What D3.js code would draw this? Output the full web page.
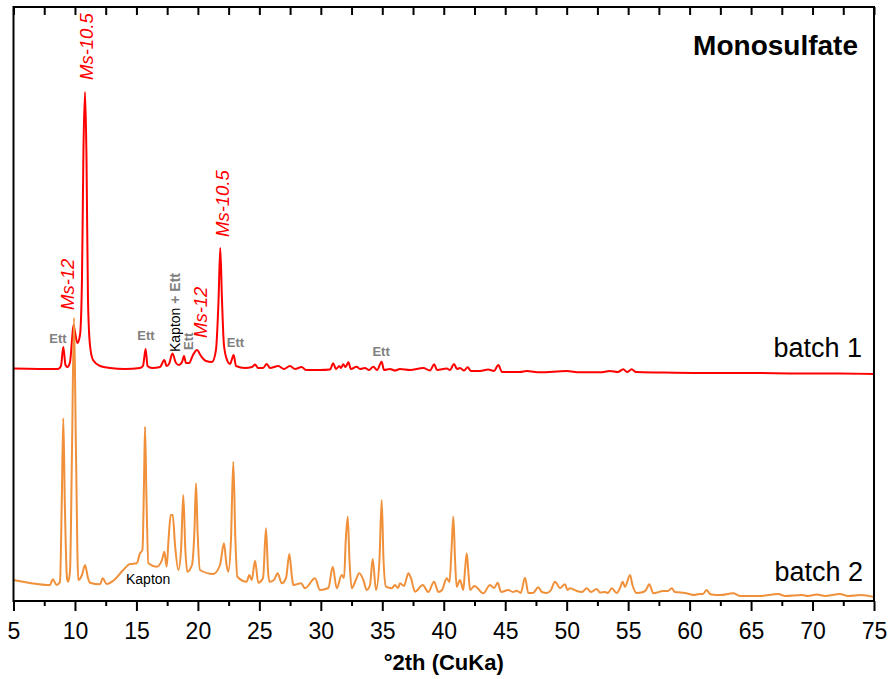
<!DOCTYPE html>
<html>
<head>
<meta charset="utf-8">
<script src="https://cdn.jsdelivr.net/npm/d3@7"></script>
<style>
  html, body { margin: 0; padding: 0; background: #fff; }
  svg { display: block; font-family: "Liberation Sans", Arial, sans-serif; }
</style>
</head>
<body>
<svg id="chart" width="891" height="679"></svg>
<script>
// ---- DATA (2θ in degrees, intensity in arbitrary units, batch 1 includes its vertical offset) ----
const batch1 = [
  [5.0,232.5],[8.62,232],[8.86,235],[9.05,254],[9.23,236],[9.39,234],[9.6,239],[9.76,261],[9.88,276],
  [10.0,269],[10.2,258],[10.41,266],[10.57,321],[10.69,451],[10.82,509],[10.94,441],[11.06,301],[11.22,256],
  [11.47,241],[12.04,235],[12.85,233],[14.07,232],[15.29,233],[15.53,235],[15.75,252],[15.9,235],[16.27,233],
  [16.92,234],[17.27,241],[17.45,235],[17.65,237],[17.93,247.5],[18.22,238],[18.46,236],[18.71,239],[18.87,245],
  [19.03,238],[19.28,238],[19.6,246],[19.93,251],[20.25,245],[20.66,240],[21.15,239],[21.47,251],[21.68,301],
  [21.82,353],[21.96,301],[22.12,256],[22.37,241],[22.61,237],[22.91,246],[23.1,235],[23.83,233],[24.4,234],
  [24.65,236.5],[24.9,233],[25.3,233],[25.6,237],[25.87,233],[26.54,235],[27.0,232],[27.49,235],[27.9,232],
  [28.44,234],[28.79,231],[29.93,231],[30.75,231.5],[31.01,237.7],[31.23,232],[31.5,235],[31.64,233],[31.83,236.7],
  [32.01,234],[32.24,238.7],[32.45,232],[32.92,234.3],[33.19,232],[33.59,233],[33.92,231],[34.27,234.3],[34.57,231],
  [34.95,239.3],[35.14,231],[35.63,232],[36.03,230.5],[36.44,232],[37.25,231],[38.34,233],[38.88,230.5],[39.23,236.7],
  [39.45,231],[40.24,232.5],[40.51,231],[40.83,237],[41.08,232],[41.32,233],[41.65,230.5],[41.95,233.7],[42.22,230],
  [42.95,230],[43.62,231.5],[44.09,230],[44.44,236],[44.74,229],[46.2,229],[46.75,230],[47.83,228.7],[50.0,230],
  [51.08,228.7],[52.71,228.7],[53.52,230],[54.17,229],[54.6,231.7],[54.91,229],[55.29,231.7],[55.64,229],
  [57.59,228.5],[60.84,228],[64.91,228],[68.97,227.5],[72.23,227.5],[75.0,227]
];
const batch2 = [
  [5.0,21],[6.34,18],[7.97,16],[8.19,21.7],[8.51,16],[8.78,19],[8.93,101],[9.05,182.7],[9.17,101],[9.35,23],
  [9.46,19.3],[9.6,31],[9.76,151],[9.92,283],[10.08,151],[10.27,21],[10.57,26],[10.82,36],[11.06,23],[11.22,18.3],
  [12.04,16.7],[12.26,22.7],[12.58,17],[13.12,20.3],[13.93,31],[14.48,37],[15.02,37.7],[15.29,47.7],[15.49,51],
  [15.62,121],[15.7,174.3],[15.82,101],[15.97,37.7],[16.65,34.3],[17.08,41],[17.27,49.3],[17.46,34.3],[17.61,61],
  [17.79,86],[17.95,86],[18.14,56],[18.41,31],[18.63,51],[18.81,106],[18.98,51],[19.14,29.3],[19.52,36],[19.72,71],
  [19.85,117.7],[19.97,71],[20.17,31],[21.25,27],[21.8,36],[22.12,57.7],[22.33,36],[22.47,29.3],[22.69,61],
  [22.88,139.3],[23.05,61],[23.21,24.3],[23.97,19.3],[24.18,26],[24.38,21],[24.65,40.3],[24.91,18.3],[25.3,23],
  [25.54,72.7],[25.7,31],[25.81,19.3],[26.19,21],[26.49,27.7],[26.82,17.7],[27.17,23],[27.44,47],[27.66,23],
  [27.76,16],[28.39,17.7],[28.71,12.7],[29.53,22.7],[29.93,11],[30.61,13],[30.97,34.3],[31.29,12.7],[31.7,26],
  [31.89,23],[32.03,61],[32.19,84.3],[32.33,41],[32.51,12.7],[32.78,19],[33.13,27.7],[33.46,21],[33.73,11],
  [34.0,16],[34.22,42],[34.49,11],[34.77,41],[34.95,101],[35.1,41],[35.3,14.3],[35.77,12.7],[36.03,16],[36.28,13],
  [36.44,17.7],[36.77,15],[37.12,27.7],[37.33,23],[37.66,9.3],[38.29,16],[38.74,9],[39.21,19.3],[39.56,9],
  [39.86,11],[40.24,22.7],[40.47,19],[40.63,51],[40.78,84.3],[40.92,41],[41.05,14.3],[41.32,21],[41.59,11],
  [41.73,31],[41.87,47.7],[42.02,26],[42.14,11],[42.49,15],[43.22,7.7],[43.76,16],[44.09,13],[44.39,18.3],
  [44.66,9],[45.25,11],[45.63,9],[45.93,10.3],[46.26,8],[46.61,23.3],[46.88,8],[47.26,8],[47.69,13.7],[47.99,9],
  [48.37,8],[48.72,11],[49.05,19.3],[49.46,13],[49.86,16.7],[50.07,11],[50.27,12.7],[50.81,10],[51.25,9],
  [51.63,12.7],[51.98,9],[52.44,12],[52.71,8.5],[53.12,9],[53.36,8],[53.66,12.7],[54.07,8],[54.34,13],[54.56,19.3],
  [54.74,14],[55.15,26],[55.35,16],[55.69,8],[56.23,9],[56.45,11],[56.72,16.7],[57.05,7.7],[57.86,10],[58.24,10],
  [58.54,12.7],[58.81,9],[59.22,8.5],[59.89,7.3],[60.3,6],[60.84,7],[61.08,7],[61.39,11],[61.66,7],[61.93,6.3],
  [62.47,6],[63.55,7.7],[64.1,5],[65.72,5],[67.21,7],[67.76,5],[69.12,6],[69.63,5],[70.34,6.5],[71.01,5],
  [72.23,7],[72.88,5],[73.95,6],[75.0,4]
];
const xTickValues = [5,10,15,20,25,30,35,40,45,50,55,60,65,70,75];
const xMinorValues = [7.5,12.5,17.5,22.5,27.5,32.5,37.5,42.5,47.5,52.5,57.5,62.5,67.5,72.5];
const xDomain = [5, 75];
const yDomain = [0, 594];
const xAxisTitle = "°2th (CuKa)";
const chartTitle = "Monosulfate";
const seriesNames = ["batch 1", "batch 2"];
// rotated phase labels: [text, 2θ, intensity]
const phaseLabels = [
  ["Ms-10.5", 11.47, 521],
  ["Ms-12", 9.92, 291],
  ["Ms-10.5", 22.57, 364],
  ["Ms-12", 20.78, 263]
];
// horizontal Ett labels: [2θ, intensity]
const ettLabels = [[8.62, 258], [15.78, 261], [23.06, 254], [34.9, 245]];

(function draw() {
  const margin = { left: 13.5, right: 874, top: 7, bottom: 601 };
  const svg = d3.select("#chart");
  const x = d3.scaleLinear().domain(xDomain).range([margin.left, margin.right]);
  const y = d3.scaleLinear().domain(yDomain).range([margin.bottom, margin.top]);

  const red = "#ff0000";
  const orange = "#f0903a";
  const gray = "#808080";

  const line = d3.line().x(d => x(d[0])).y(d => y(d[1])).curve(d3.curveMonotoneX);
  svg.append("path").datum(batch1).attr("d", line)
    .attr("fill", "none").attr("stroke", red).attr("stroke-width", 2).attr("stroke-linejoin", "round");
  svg.append("path").datum(batch2).attr("d", line)
    .attr("fill", "none").attr("stroke", orange).attr("stroke-width", 2).attr("stroke-linejoin", "round");

  svg.append("rect")
    .attr("x", margin.left).attr("y", margin.top)
    .attr("width", margin.right - margin.left).attr("height", margin.bottom - margin.top)
    .attr("fill", "none").attr("stroke", "#000").attr("stroke-width", 2);

  const bottomAxis = svg.append("g").attr("transform", `translate(0,${margin.bottom})`)
    .call(d3.axisBottom(x).tickValues(xTickValues).tickSize(10).tickPadding(12).tickFormat(d3.format("d")));
  bottomAxis.select(".domain").remove();
  bottomAxis.selectAll(".tick line").attr("stroke", "#000").attr("stroke-width", 2);
  bottomAxis.selectAll(".tick text").attr("font-size", 23).attr("fill", "#000")
    .attr("font-family", "'Liberation Sans', Arial, sans-serif");

  const bottomMinor = svg.append("g").attr("transform", `translate(0,${margin.bottom})`)
    .call(d3.axisBottom(x).tickValues(xMinorValues).tickSize(5).tickFormat(""));
  bottomMinor.select(".domain").remove();
  bottomMinor.selectAll(".tick line").attr("stroke", "#000").attr("stroke-width", 2);

  const topAxis = svg.append("g").attr("transform", `translate(0,${margin.top})`)
    .call(d3.axisTop(x).tickValues(xTickValues.concat(xMinorValues)).tickSize(-8).tickFormat(""));
  topAxis.select(".domain").remove();
  topAxis.selectAll(".tick line").attr("stroke", "#000").attr("stroke-width", 2);

  svg.append("text").attr("x", (margin.left + margin.right) / 2).attr("y", 670)
    .attr("text-anchor", "middle").attr("font-size", 22).attr("font-weight", "bold")
    .text(xAxisTitle);

  svg.append("text").attr("x", 858).attr("y", 55).attr("text-anchor", "end")
    .attr("font-size", 28).attr("font-weight", "bold").text(chartTitle);

  svg.append("text").attr("x", 862).attr("y", 357).attr("text-anchor", "end")
    .attr("font-size", 27).text(seriesNames[0]);
  svg.append("text").attr("x", 863).attr("y", 581).attr("text-anchor", "end")
    .attr("font-size", 27).text(seriesNames[1]);

  phaseLabels.forEach(([t, th, inten]) => {
    svg.append("text")
      .attr("transform", `translate(${x(th)},${y(inten)}) rotate(-90)`)
      .attr("font-size", 18.5).attr("font-style", "italic").attr("fill", red)
      .text(t);
  });

  const kt = svg.append("text")
    .attr("transform", `translate(${x(18.54)},${y(249)}) rotate(-90)`)
    .attr("font-size", 14);
  kt.append("tspan").attr("fill", "#000").text("Kapton ");
  kt.append("tspan").attr("fill", gray).attr("font-weight", "bold").text("+ Ett");

  svg.append("text")
    .attr("transform", `translate(${x(19.6)},${y(251)}) rotate(-90)`)
    .attr("font-size", 13).attr("font-weight", "bold").attr("fill", gray).text("Ett");

  ettLabels.forEach(([th, inten]) => {
    svg.append("text").attr("x", x(th)).attr("y", y(inten)).attr("text-anchor", "middle")
      .attr("font-size", 13).attr("font-weight", "bold").attr("fill", gray).text("Ett");
  });

  svg.append("text").attr("x", x(14.15)).attr("y", y(16.7))
    .attr("font-size", 14).attr("fill", "#000").text("Kapton");
})();
</script>
</body>
</html>
